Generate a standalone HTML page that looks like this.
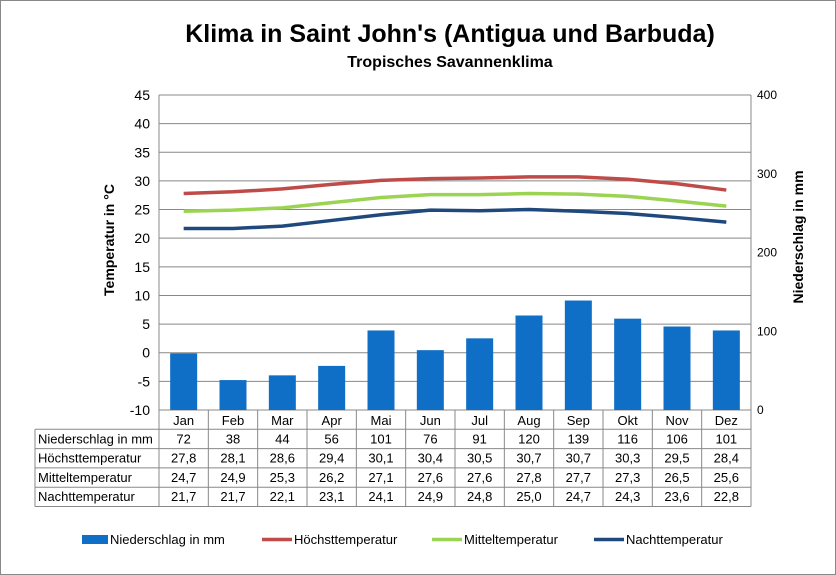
<!DOCTYPE html>
<html><head><meta charset="utf-8"><style>
body{margin:0;background:#fff}
svg{display:block;font-family:"Liberation Sans",sans-serif}
</style></head><body>
<svg id="c" width="836" height="575" viewBox="0 0 836 575">
<rect x="0.5" y="0.5" width="835" height="574" fill="#fff" stroke="#888"/>
<text x="450" y="42" text-anchor="middle" font-size="25" font-weight="bold">Klima in Saint John's (Antigua und Barbuda)</text>
<text x="450" y="67" text-anchor="middle" font-size="16" font-weight="bold">Tropisches Savannenklima</text>
<text transform="translate(114,240) rotate(-90)" text-anchor="middle" font-size="14" font-weight="bold">Temperatur in °C</text>
<text transform="translate(803,237) rotate(-90)" text-anchor="middle" font-size="14" font-weight="bold">Niederschlag in mm</text>
<g id="g"></g>
</svg>
<script>
const months=["Jan","Feb","Mar","Apr","Mai","Jun","Jul","Aug","Sep","Okt","Nov","Dez"];
const rain=[72,38,44,56,101,76,91,120,139,116,106,101];
const tmax=[27.8,28.1,28.6,29.4,30.1,30.4,30.5,30.7,30.7,30.3,29.5,28.4];
const tmean=[24.7,24.9,25.3,26.2,27.1,27.6,27.6,27.8,27.7,27.3,26.5,25.6];
const tmin=[21.7,21.7,22.1,23.1,24.1,24.9,24.8,25.0,24.7,24.3,23.6,22.8];
const leftTicks=[45,40,35,30,25,20,15,10,5,0,-5,-10];
const rightTicks=[0,100,200,300,400];
const NS="http://www.w3.org/2000/svg",g=document.getElementById("g");
const L=159,R=751,T=95,B=410,cw=(R-L)/12;
const yT=v=>B-(v+10)/55*(B-T), yR=v=>B-v/400*(B-T), xc=i=>L+cw*(i+0.5);
function mk(t,a,p){const e=document.createElementNS(NS,t);for(const k in a)e.setAttribute(k,a[k]);(p||g).appendChild(e);return e;}
leftTicks.forEach(v=>{
const l=mk("line",{x1:L,x2:R,y1:yT(v),y2:yT(v),stroke:"#888","stroke-width":1});


const t=mk("text",{x:L-9,y:yT(v)+5,"text-anchor":"end","font-size":14});t.textContent=v;


});
rightTicks.forEach(v=>{
const t=mk("text",{x:757,y:yR(v)+4,"font-size":12});t.textContent=v;


});
mk("line",{x1:L,x2:L,y1:T,y2:B,stroke:"#888"});
mk("line",{x1:R,x2:R,y1:T,y2:B,stroke:"#888"});
rain.forEach((v,i)=>{
const r=mk("rect",{x:xc(i)-13.5,y:yR(v),width:27,height:B-yR(v),fill:"#0f6fc6"});


});
function line(arr,col,name){
let d="M"+arr.map((v,i)=>xc(i)+","+yT(v)).join(" L");
const p=mk("path",{d:d,fill:"none",stroke:col,"stroke-width":3.5,"stroke-linejoin":"round"});


}
line(tmax,"#be4b48","line-hoechsttemperatur");
line(tmean,"#9bd452","line-mitteltemperatur");
line(tmin,"#1f497d","line-nachttemperatur");
// table
const rowsY=[410,429.3,448.6,467.9,487.2,506.5];
const rowLabels=["Niederschlag in mm","Höchsttemperatur","Mitteltemperatur","Nachttemperatur"];
const rowData=[rain,tmax,tmean,tmin];
const TL=35;
mk("line",{x1:L,x2:L,y1:B,y2:rowsY[5],stroke:"#888"});
mk("line",{x1:TL,x2:TL,y1:rowsY[1],y2:rowsY[5],stroke:"#888"});
for(let i=1;i<=12;i++)mk("line",{x1:L+cw*i,x2:L+cw*i,y1:B,y2:rowsY[5],stroke:"#888"});
for(let r=1;r<6;r++)mk("line",{x1:TL,x2:R,y1:rowsY[r],y2:rowsY[r],stroke:"#888"});
months.forEach((m,i)=>{
const t=mk("text",{x:xc(i),y:425,"text-anchor":"middle","font-size":13});t.textContent=m;


});
rowData.forEach((arr,r)=>{
const lb=mk("text",{x:TL+3,y:rowsY[r+1]+14,"font-size":13});lb.textContent=rowLabels[r];


arr.forEach((v,i)=>{
const t=mk("text",{x:xc(i),y:rowsY[r+1]+14,"text-anchor":"middle","font-size":13});
t.textContent=r==0?v:v.toFixed(1).replace(".",",");


});
});
// legend
const leg=[["Niederschlag in mm","#0f6fc6",true,82],["Höchsttemperatur","#be4b48",false,262],["Mitteltemperatur","#9bd452",false,432],["Nachttemperatur","#1f497d",false,594]];
leg.forEach(([n,c,bar,x])=>{
if(bar)mk("rect",{x:x,y:535,width:26,height:9,fill:c});
else mk("line",{x1:x,x2:x+30,y1:539.5,y2:539.5,stroke:c,"stroke-width":3.5});
const t=mk("text",{x:x+(bar?28:32),y:544,"font-size":13});t.textContent=n;


});
</script>
</body></html>
